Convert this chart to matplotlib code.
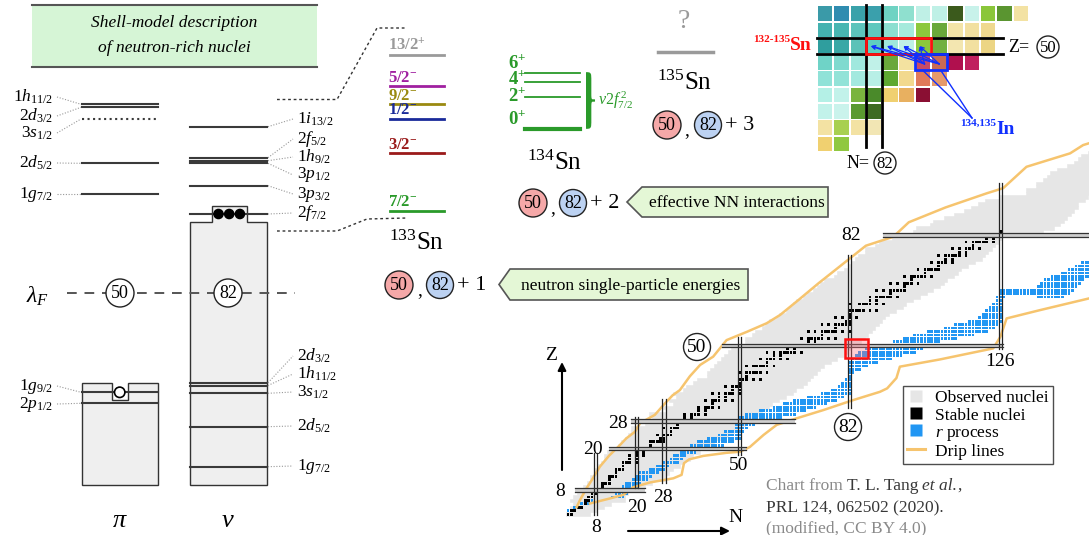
#!/usr/bin/env python
# -*- coding: utf-8 -*-
"""
壳模型示意图 + 核素图 (Sn/In 附近, r 过程)
"""

import numpy as np
import matplotlib
matplotlib.use('Agg')
import matplotlib.pyplot as plt
from matplotlib.patches import Rectangle, Circle, Polygon, PathPatch
from matplotlib.path import Path
from matplotlib.lines import Line2D
from matplotlib.collections import PatchCollection

plt.rcParams['font.family'] = ['Liberation Serif', 'DejaVu Serif']
plt.rcParams['mathtext.fontset'] = 'custom'
plt.rcParams['mathtext.rm'] = 'Liberation Serif'
plt.rcParams['mathtext.it'] = 'Liberation Serif:italic'
plt.rcParams['mathtext.bf'] = 'Liberation Serif:bold'

W, H = 1089, 535

# ---------------- 壳模型能级 ----------------
PI_UP_LABELS = [r'1$h_{\mathit{11/2}}$', r'2$d_{\mathit{3/2}}$', r'3$s_{\mathit{1/2}}$',
                r'2$d_{\mathit{5/2}}$', r'1$g_{\mathit{7/2}}$']
PI_UP_LEVELS = [104.3, 107.3, 119.0, 163.3, 194.0]
PI_UP_TEXT_Y = [97, 116, 133, 163, 194]

PI_LOW_LABELS = [r'1$g_{\mathit{9/2}}$', r'2$p_{\mathit{1/2}}$']
PI_LOW_LEVELS = [392.3, 403.3]
PI_LOW_TEXT_Y = [386, 404]

NU_UP_LABELS = [r'1$i_{\mathit{13/2}}$', r'2$f_{\mathit{5/2}}$', r'1$h_{\mathit{9/2}}$',
                r'3$p_{\mathit{1/2}}$', r'3$p_{\mathit{3/2}}$', r'2$f_{\mathit{7/2}}$']
NU_UP_LEVELS = [126.7, 157.7, 160.7, 163.3, 185.7, 214.0]
NU_UP_TEXT_Y = [119, 139, 157, 175, 194, 213]

NU_LOW_LABELS = [r'2$d_{\mathit{3/2}}$', r'1$h_{\mathit{11/2}}$', r'3$s_{\mathit{1/2}}$',
                 r'2$d_{\mathit{5/2}}$', r'1$g_{\mathit{7/2}}$']
NU_LOW_LEVELS = [382.7, 385.5, 393.3, 426.7, 466.7]
NU_LOW_TEXT_Y = [356, 374, 392, 426, 466]

# 133Sn 单中子态
SN133_LABELS = [r'$\mathbf{13/2^{+}}$', r'$\mathbf{5/2^{-}}$', r'$\mathbf{9/2^{-}}$',
                r'$\mathbf{1/2^{-}}$', r'$\mathbf{3/2^{-}}$', r'$\mathbf{7/2^{-}}$']
SN133_LEVELS = [55.0, 86.0, 104.3, 119.0, 153.3, 210.7]
SN133_COLORS = ['#9a9a9a', '#a020a0', '#9a8a10', '#1a2a9a', '#9a1a1a', '#2a9a2a']

# 134Sn  v2f7/2^2 多重态
SN134_LABELS = [r'$\mathbf{6^{+}}$', r'$\mathbf{4^{+}}$', r'$\mathbf{2^{+}}$', r'$\mathbf{0^{+}}$']
SN134_LEVELS = [73.3, 81.7, 97.3, 129.3]
SN134_TEXT_Y = [63, 79, 96, 119]

# ---------------- 局部核素图色块 (132-135Sn 附近) ----------------
TILE_COLORS = [
    ['#3a9aa8', '#2f8cb0', '#3aa2aa', '#3aa0ac', '#6fd3c3', '#8fe0cf', '#bff0e6', '#bff0e6',
     '#3b5a1c', '#c8f2ea', '#8ac63a', '#5a9530', '#f3e2a3'],
    ['#44b2b0', '#48b6b2', '#5cc4bc', '#5ec8be', '#8ddfd0', '#a6eadc', '#8cc83c', '#6aa83a',
     '#f3e4a8', '#f2e0a0', '#efd98f', '', ''],
    ['#2f9e9e', '#3aa8a6', '#5bc2b8', '#5ecfc0', '#9fe6dc', '#bff0e6', '#8cc83c', '#72b040',
     '#f3e6b0', '#f2e0a0', '#ecd584', '', ''],
    ['#6fd3c7', '#7fdacf', '#a0e8de', '#c0f1e8', '#6aa83a', '#f3e2a0', '#c84a66', '#c96a55',
     '#b0104e', '#c0205e', '', '', ''],
    ['#90e2d8', '#93e3d8', '#a3e9df', '#b8efe6', '#5ea832', '#f2d98e', '#e07a5a', '#e59a6c',
     '', '', '', '', ''],
    ['#b4f0e6', '#c2f2ea', '#7ab43e', '#4a8a2a', '#f0d070', '#e8b060', '#8a0f33',
     '', '', '', '', '', ''],
    ['#c2f2ea', '#caf3ec', '#5a9a30', '#3e6b22', '', '', '', '', '', '', '', '', ''],
    ['#f3e2a3', '#a8d050', '#f3e2a3', '#f2e6b4', '', '', '', '', '', '', '', '', ''],
    ['#f0d070', '#90c840', '', '', '', '', '', '', '', '', '', '', ''],
]

# ---------------- 核素图数据 (N, Z) ----------------
# 已观测核素: 每个 Z 的 N 范围
OBS_Z = list(range(1, 109))
OBS_NMIN = [0, 1, 1, 2, 1, 2, 3, 4, 5, 6, 7, 7, 8, 8, 9, 10, 11, 11, 12, 15,
            15, 16, 17, 18, 19, 19, 23, 20, 25, 24, 29, 28, 31, 30, 32, 31, 34, 35, 37, 38,
            41, 41, 42, 43, 44, 45, 46, 47, 48, 49, 52, 52, 54, 55, 57, 58, 59, 61, 62, 64,
            65, 66, 67, 69, 70, 72, 73, 74, 75, 78, 79, 81, 82, 83, 84, 85, 87, 87, 90, 91,
            95, 96, 101, 102, 106, 107, 110, 113, 116, 118, 120, 122, 126, 134, 134, 137, 137, 139, 140, 141,
            143, 146, 148, 149, 150, 152, 153, 155]
OBS_NMAX = [6, 8, 10, 12, 16, 16, 17, 20, 22, 24, 28, 28, 29, 30, 32, 33, 35, 36, 38, 40,
            41, 42, 44, 46, 48, 50, 51, 54, 53, 55, 56, 58, 59, 61, 63, 65, 66, 68, 69, 70,
            71, 72, 73, 74, 76, 78, 80, 81, 82, 84, 85, 86, 87, 88, 89, 90, 91, 92, 93, 95,
            97, 98, 100, 102, 104, 106, 108, 109, 110, 112, 113, 114, 116, 118, 120, 121, 122, 123, 124, 125,
            126, 131, 138, 141, 143, 144, 145, 146, 147, 148, 148, 150, 151, 153, 154, 156, 157, 158, 158, 159,
            159, 160, 163, 164, 165, 165, 167, 169]

# 稳定核素: Z -> N
STABLE_N = {
    1: [0, 1], 2: [1, 2], 3: [3, 4], 4: [5], 5: [5, 6], 6: [6, 7], 7: [7, 8],
    8: [8, 9, 10], 9: [10], 10: [10, 11, 12], 11: [12], 12: [12, 13, 14], 13: [14],
    14: [14, 15, 16], 15: [16], 16: [16, 17, 18, 20], 17: [18, 20], 18: [18, 20, 22],
    19: [20, 22], 20: [20, 22, 23, 24, 26, 28], 21: [24], 22: [24, 25, 26, 27, 28],
    23: [27, 28], 24: [26, 28, 29, 30], 25: [30], 26: [28, 30, 31, 32], 27: [32],
    28: [30, 32, 33, 34, 36], 29: [34, 36], 30: [34, 36, 37, 38, 40], 31: [38, 40],
    32: [38, 40, 41, 42, 44], 33: [42], 34: [40, 42, 43, 44, 46, 48], 35: [44, 46],
    36: [42, 44, 46, 47, 48, 50], 37: [48, 50], 38: [46, 48, 49, 50], 39: [50],
    40: [50, 51, 52, 54, 56], 41: [52], 42: [50, 52, 53, 54, 55, 56, 58],
    44: [52, 54, 55, 56, 57, 58, 60], 45: [58], 46: [56, 58, 59, 60, 62, 64],
    47: [60, 62], 48: [58, 60, 62, 63, 64, 65, 66, 68], 49: [64, 66],
    50: [62, 64, 65, 66, 67, 68, 69, 70, 72, 74], 51: [70, 72],
    52: [68, 70, 71, 72, 73, 74, 76, 78], 53: [74], 54: [70, 72, 74, 75, 76, 77, 78, 80, 82],
    55: [78], 56: [74, 76, 78, 79, 80, 81, 82], 57: [81, 82], 58: [78, 80, 82, 84],
    59: [82], 60: [82, 83, 84, 85, 86, 88, 90], 62: [82, 85, 86, 87, 88, 90, 92],
    63: [88, 90], 64: [88, 90, 91, 92, 93, 94, 96], 65: [94],
    66: [90, 92, 94, 95, 96, 97, 98], 67: [98], 68: [94, 96, 98, 99, 100, 102],
    69: [100], 70: [98, 100, 101, 102, 103, 104, 106], 71: [104],
    72: [102, 104, 105, 106, 107, 108], 73: [108], 74: [106, 108, 109, 110, 112],
    75: [110, 112], 76: [108, 110, 111, 112, 113, 114, 116], 77: [114, 116],
    78: [112, 114, 116, 117, 118, 120], 79: [118], 80: [116, 118, 119, 120, 121, 122, 124],
    81: [122, 124], 82: [122, 124, 125, 126], 83: [126],
}

# r 过程路径: 每段 (Z, N 起, N 止)
R_Z = [1, 2, 3, 4, 5, 6, 7, 8, 9, 10, 11, 12, 13, 14, 15, 16, 17, 18, 19, 20,
       21, 22, 23, 24, 25, 26, 27, 28, 29, 30, 31, 32, 33, 34, 35, 36, 37, 38, 39, 40,
       41, 42, 43, 44, 45, 46, 47, 48, 49, 50, 51, 52, 53, 54, 55, 56, 57, 58, 59, 60,
       61, 62, 63, 64, 64, 65, 66, 67, 68, 69, 70, 71, 72, 73, 74]
R_NMIN = [0, 0, 2, 4, 5, 13, 14, 15, 16, 17, 19, 20, 21, 24, 26, 28, 30, 31, 33, 34,
          36, 38, 41, 44, 46, 49, 49, 50, 50, 52, 56, 60, 63, 66, 70, 74, 77, 79, 80, 81,
          82, 82, 82, 82, 82, 83, 84, 85, 87, 91, 95, 98, 101, 105, 110, 113, 117, 120, 121, 122,
          123, 124, 125, 125, 137, 126, 126, 137, 138, 139, 141, 144, 146, 148, 150]
R_NMAX = [1, 2, 4, 6, 7, 16, 17, 19, 20, 21, 23, 24, 26, 28, 29, 32, 33, 34, 37, 42,
          45, 48, 50, 50, 51, 52, 54, 58, 62, 66, 69, 72, 75, 78, 80, 82, 82, 82, 82, 82,
          82, 83, 85, 87, 90, 94, 97, 101, 103, 104, 108, 113, 118, 122, 124, 125, 126, 126, 126, 126,
          126, 126, 126, 127, 144, 146, 147, 148, 149, 150, 152, 152, 152, 152, 152]

# 中子/质子滴线
P_DRIP_N = [2.5, 3.5, 5.4, 7.0, 9.3, 12.0, 14.7, 17.0, 19.5, 21.0, 25.3, 28.3, 30.5, 32.6,
            35.5, 38.5, 42.3, 46.2, 52.1, 57.9, 61.8, 67.1, 73.0, 80.6, 86.8, 94.8, 99.3,
            110.0, 122.0, 126.8, 133.6, 146.3, 150.1, 153.0]
P_DRIP_Z = [3.0, 5.1, 8.5, 11.0, 14.8, 18.0, 20.6, 23.0, 24.9, 27.4, 29.8, 33.2, 35.5, 37.0,
            41.0, 44.3, 46.7, 51.5, 53.9, 56.4, 58.8, 63.1, 68.0, 74.0, 78.9, 81.5, 85.7,
            90.0, 94.1, 95.6, 101.8, 105.7, 108.1, 109.0]
N_DRIP_N = [6.4, 12.0, 16.1, 19.0, 23.9, 30.7, 33.1, 33.8, 35.3, 39.4, 46.2, 50.1, 53.0,
            57.0, 60.8, 66.6, 74.4, 83.1, 90.9, 93.0, 95.7, 96.7, 108.4, 123.9, 126.0,
            127.8, 137.5, 151.8, 153.0]
N_DRIP_Z = [4.1, 5.5, 6.6, 8.8, 10.2, 11.4, 12.4, 15.8, 16.9, 17.9, 18.8, 19.1, 20.5,
            24.0, 26.9, 28.8, 31.2, 34.1, 36.5, 37.5, 40.5, 43.8, 45.9, 49.1, 52.5,
            57.8, 60.2, 63.6, 64.0]

MAGIC_N = [8, 20, 28, 50, 82, 126]
MAGIC_N_ZSPAN = [(0.8, 18.7), (8.5, 29.3), (10.0, 34.5), (18.2, 52.5), (31.8, 76.3), (48.9, 97.1)]
MAGIC_Z = [8, 20, 28, 50, 82]
MAGIC_Z_NSPAN = [(2.0, 22.5), (12.0, 52.0), (18.5, 66.0), (44.9, 126.7), (91.7, 155.0)]

LEVEL_C = '#3a3a3a'
BOX_C = '#efefef'
GRAY_OBS = '#e6e6e6'
R_BLUE = '#2196f3'
DRIP_C = '#f6c46e'
ARROW_BLUE = '#1030ff'


def brace(ax, x, y0, y1, w, **kw):
    """竖直大括号 '}' (y 向下增大)"""
    h = y1 - y0
    ym = (y0 + y1) / 2
    xm = x + w * 0.5
    verts = [(x, y0),
             (xm, y0), (xm, y0), (xm, y0 + 0.15 * h),
             (xm, ym - 0.12 * h),
             (xm, ym - 0.02 * h), (xm, ym), (x + w, ym),
             (xm, ym), (xm, ym + 0.02 * h), (xm, ym + 0.12 * h),
             (xm, y1 - 0.15 * h),
             (xm, y1), (xm, y1), (x, y1)]
    C4 = Path.CURVE4
    codes = [Path.MOVETO, C4, C4, C4, Path.LINETO, C4, C4, C4, C4, C4, C4,
             Path.LINETO, C4, C4, C4]
    ax.add_patch(PathPatch(Path(verts, codes), facecolor='none', **kw))


def circled(ax, x, y, txt, r=13, fc='white', fs=13):
    ax.add_patch(Circle((x, y), r, facecolor=fc, edgecolor='#222', lw=1.0, zorder=5))
    ax.text(x, y + 1, txt, ha='center', va='center', fontsize=fs, zorder=6)


def callout(ax, x0, x1, y0, y1, tip, txt):
    ym = (y0 + y1) / 2
    pts = [(tip, ym), (x0, y0), (x1, y0), (x1, y1), (x0, y1)]
    ax.add_patch(Polygon(pts, closed=True, facecolor='#e4f7d6', edgecolor='#555', lw=1.2))
    ax.text((x0 + x1) / 2 + 2, ym + 1, txt, ha='center', va='center', fontsize=12.5)


fig = plt.figure(figsize=(W / 100, H / 100), dpi=100)
ax = fig.add_axes([0, 0, 1, 1])
ax.set_xlim(0, W)
ax.set_ylim(H, 0)
ax.axis('off')

# ---- 标题框 ----
ax.add_patch(Rectangle((32, 5), 285, 62, facecolor='#d6f5d6', edgecolor='none'))
ax.plot([32, 317], [5, 5], color='#555', lw=1.5)
ax.plot([32, 317], [67, 67], color='#555', lw=1.5)
ax.text(174, 23, 'Shell-model description', ha='center', va='center', fontsize=12.5, style='italic')
ax.text(174, 48, 'of neutron-rich nuclei', ha='center', va='center', fontsize=12.5, style='italic')

# ---- 质子能级 ----
PX0, PX1 = 82, 158
for i, (lab, ylev, ytx) in enumerate(zip(PI_UP_LABELS, PI_UP_LEVELS, PI_UP_TEXT_Y)):
    ls = ':' if i == 2 else '-'
    ax.plot([PX0, PX1], [ylev, ylev], color=LEVEL_C, lw=1.5, ls=ls)
    ax.text(53, ytx, lab, ha='right', va='center', fontsize=12.5)
    ax.plot([57, PX0 - 1], [ytx, ylev], color='#999', lw=0.8, ls=(0, (1, 1.5)))

prot_box = [(PX0, 485), (PX0, 383.3), (111.7, 383.3), (111.7, 400), (127.7, 400),
            (127.7, 383.3), (PX1, 383.3), (PX1, 485)]
ax.add_patch(Polygon(prot_box, closed=True, facecolor=BOX_C, edgecolor='#333', lw=1.0))
for lab, ylev, ytx in zip(PI_LOW_LABELS, PI_LOW_LEVELS, PI_LOW_TEXT_Y):
    ax.plot([PX0, PX1], [ylev, ylev], color=LEVEL_C, lw=1.5)
    ax.text(53, ytx, lab, ha='right', va='center', fontsize=12.5)
    ax.plot([57, PX0 - 1], [ytx, ylev], color='#999', lw=0.8, ls=(0, (1, 1.5)))
ax.add_patch(Circle((119.7, 392.3), 5.2, facecolor='white', edgecolor='black', lw=1.2, zorder=4))

# ---- 中子能级 ----
NX0, NX1 = 190, 267
neut_box = [(NX0, 485), (NX0, 222), (212, 222), (212, 205.5), (246.5, 205.5),
            (246.5, 222), (NX1, 222), (NX1, 485)]
ax.add_patch(Polygon(neut_box, closed=True, facecolor=BOX_C, edgecolor='#333', lw=1.0))
for lab, ylev, ytx in zip(NU_UP_LABELS, NU_UP_LEVELS, NU_UP_TEXT_Y):
    ax.plot([NX0, NX1], [ylev, ylev], color=LEVEL_C, lw=1.5)
    ax.text(297, ytx, lab, ha='left', va='center', fontsize=12.5)
    ax.plot([NX1 + 1, 293], [ylev, ytx], color='#999', lw=0.8, ls=(0, (1, 1.5)))
for lab, ylev, ytx in zip(NU_LOW_LABELS, NU_LOW_LEVELS, NU_LOW_TEXT_Y):
    ax.plot([NX0, NX1], [ylev, ylev], color=LEVEL_C, lw=1.5)
    ax.text(297, ytx, lab, ha='left', va='center', fontsize=12.5)
    ax.plot([NX1 + 1, 293], [ylev, ytx], color='#999', lw=0.8, ls=(0, (1, 1.5)))
for xd in (218.5, 229.2, 239.9):
    ax.add_patch(Circle((xd, 214.0), 4.6, facecolor='black', edgecolor='black', zorder=4))

# 费米面
ax.plot([67, 295], [293, 293], color='#555', lw=1.4, ls=(0, (5, 4)))
ax.text(38, 296, r'$\lambda_F$', ha='center', va='center', fontsize=17)
circled(ax, 120, 293, '50', r=14)
circled(ax, 228, 293, '82', r=14)
ax.text(120, 521, r'$\pi$', ha='center', va='center', fontsize=19)
ax.text(228, 521, r'$\nu$', ha='center', va='center', fontsize=19)

# 连到 133Sn 的虚线
ax.plot([277, 337, 377, 405], [99.5, 99.5, 28, 28], color='#333', lw=1.0, ls=(0, (2, 2)))
ax.plot([277, 337, 352, 367, 407], [231, 231, 225, 219, 218], color='#333', lw=1.0, ls=(0, (2, 2)))

# ---- 133Sn ----
for lab, ylev, col in zip(SN133_LABELS, SN133_LEVELS, SN133_COLORS):
    ax.plot([390, 444], [ylev, ylev], color=col, lw=2.0)
    ax.text(388, ylev - 0.5, lab, ha='left', va='bottom', fontsize=12, color=col)
ax.text(417, 243, r'$^{133}$Sn', ha='center', va='center', fontsize=18)
circled(ax, 399, 285, '50', r=14, fc='#f5a8a8')
ax.text(420, 291, ',', ha='center', va='center', fontsize=14)
circled(ax, 440, 285, '82', r=13.5, fc='#bcd2f2')
ax.text(457, 286, '+ 1', ha='left', va='center', fontsize=16)
callout(ax, 510, 748, 269, 300, 499, 'neutron single-particle energies')

# ---- 134Sn ----
for lab, ylev, ytx, i in zip(SN134_LABELS, SN134_LEVELS, SN134_TEXT_Y, range(4)):
    ax.plot([525, 580], [ylev, ylev], color='#2a9a2a', lw=3.0 if i == 3 else 1.3)
    ax.text(508, ytx, lab, ha='left', va='center', fontsize=13.5, color='#2a9a2a')
brace(ax, 586, 73, 128, 9, color='#2a9a2a', lw=1.2)
ax.text(598, 100, r'$\nu 2f^{\,2}_{7/2}$', ha='left', va='center', fontsize=11.5, color='#2a9a2a')
ax.text(555, 163, r'$^{134}$Sn', ha='center', va='center', fontsize=18)
circled(ax, 533, 203, '50', r=14, fc='#f5a8a8')
ax.text(553, 209, ',', ha='center', va='center', fontsize=14)
circled(ax, 573, 203, '82', r=13.5, fc='#bcd2f2')
ax.text(590, 204, '+ 2', ha='left', va='center', fontsize=16)
callout(ax, 642, 828, 187, 217, 627, 'effective NN interactions')

# ---- 135Sn ----
ax.text(684, 22, '?', ha='center', va='center', fontsize=20, color='#9a9a9a')
ax.plot([658, 713], [52, 52], color='#9a9a9a', lw=2.5)
ax.text(685, 83, r'$^{135}$Sn', ha='center', va='center', fontsize=18)
circled(ax, 667, 125, '50', r=14, fc='#f5a8a8')
ax.text(687, 131, ',', ha='center', va='center', fontsize=14)
circled(ax, 708, 125, '82', r=13.5, fc='#bcd2f2')
ax.text(725, 126, '+ 3', ha='left', va='center', fontsize=16)

# ---- 局部色块图 ----
TX0, TY0, TP, TG = 817.0, 5.3, 16.3, 0.9
for r, row in enumerate(TILE_COLORS):
    for c, col in enumerate(row):
        if col:
            ax.add_patch(Rectangle((TX0 + c * TP + TG, TY0 + r * TP + TG), TP - 2 * TG, TP - 2 * TG,
                                   facecolor=col, edgecolor='none'))
for yl in (TY0 + 2 * TP, TY0 + 3 * TP):
    ax.plot([TX0, 1003], [yl, yl], color='black', lw=2.0)
for xl in (TX0 + 3 * TP, TX0 + 4 * TP):
    ax.plot([xl, xl], [TY0, 147], color='black', lw=2.0)
ax.add_patch(Rectangle((TX0 + 3 * TP, TY0 + 2 * TP), 4 * TP, TP, facecolor='none',
                       edgecolor='#ff1010', lw=2.0, zorder=4))
ax.add_patch(Rectangle((TX0 + 6 * TP, TY0 + 3 * TP), 2 * TP, TP, facecolor='none',
                       edgecolor=ARROW_BLUE, lw=2.0, zorder=4))
heads = [(TX0 + (c + 0.3) * TP, TY0 + 2.5 * TP) for c in (3, 4, 5, 6)]
for tail in [(TX0 + 6.6 * TP, TY0 + 3.6 * TP), (TX0 + 7.5 * TP, TY0 + 3.6 * TP)]:
    for hd in heads:
        ax.annotate('', xy=hd, xytext=tail,
                    arrowprops=dict(arrowstyle='->', color=ARROW_BLUE, lw=0.9,
                                    mutation_scale=6, shrinkA=0, shrinkB=0), zorder=5)
for tgt in [(TX0 + 6.5 * TP, TY0 + 4 * TP), (TX0 + 7.6 * TP, TY0 + 4 * TP)]:
    ax.plot([972, tgt[0]], [118, tgt[1]], color=ARROW_BLUE, lw=1.0)
ax.text(790, 40, '132-135', ha='right', va='center', fontsize=8, color='#ff1010', weight='bold')
ax.text(790, 46, 'Sn', ha='left', va='center', fontsize=14, color='#ff1010', weight='bold')
ax.text(996, 123, '134,135', ha='right', va='center', fontsize=8, color=ARROW_BLUE, weight='bold')
ax.text(996, 130, 'In', ha='left', va='center', fontsize=14, color=ARROW_BLUE, weight='bold')
ax.text(1008, 47, 'Z=', ha='left', va='center', fontsize=13)
circled(ax, 1048, 47, '50', r=11, fs=12)
ax.text(847, 163, 'N=', ha='left', va='center', fontsize=13)
circled(ax, 885, 163, '82', r=11, fs=12)

# ---- 核素图 ----
axc = fig.add_axes([0, 0, 1, 1])
axc.set_xlim(-165.50, 151.81)
axc.set_ylim(-5.05, 150.20)
axc.axis('off')

obs_left = np.array(OBS_NMIN) - 0.5
obs_w = np.array(OBS_NMAX) - np.array(OBS_NMIN) + 1
axc.barh(OBS_Z, obs_w, left=obs_left, height=1.0, color=GRAY_OBS, edgecolor=GRAY_OBS,
         linewidth=0.4, zorder=1)

r_cells = [Rectangle((n - 0.4, z - 0.4), 0.8, 0.8)
           for z, n0, n1 in zip(R_Z, R_NMIN, R_NMAX) for n in range(n0, n1 + 1)]
axc.add_collection(PatchCollection(r_cells, facecolor=R_BLUE, edgecolor='none', zorder=2))
st_cells = [Rectangle((n - 0.4, z - 0.4), 0.8, 0.8)
            for z, ns in STABLE_N.items() for n in ns]
axc.add_collection(PatchCollection(st_cells, facecolor='black', edgecolor='none', zorder=3))

axc.plot(P_DRIP_N, P_DRIP_Z, color=DRIP_C, lw=1.8, zorder=3.5)
axc.plot(N_DRIP_N, N_DRIP_Z, color=DRIP_C, lw=1.8, zorder=3.5)

for n, (z0, z1) in zip(MAGIC_N, MAGIC_N_ZSPAN):
    for d in (-0.5, 0.5):
        axc.plot([n + d, n + d], [z0, z1], color='#222', lw=0.9, zorder=4)
for z, (n0, n1) in zip(MAGIC_Z, MAGIC_Z_NSPAN):
    axc.fill_between([n0, n1], z - 0.5, z + 0.5, color='#cfcfcf', lw=0, zorder=3.8)
    for d in (-0.5, 0.5):
        axc.plot([n0, n1], [z + d, z + d], color='#333', lw=0.9, zorder=4)

axc.add_patch(Rectangle((80.7, 46.3), 6.7, 5.4, facecolor=(1.0, 0.45, 0.5, 0.35),
                        edgecolor='#ff1010', lw=1.8, zorder=5))

# 幻数标注
for txt, x, y in [('8', 560, 491), ('20', 593, 450), ('28', 618, 423),
                  ('8', 596, 527), ('20', 637, 508), ('28', 663, 497), ('50', 739, 466),
                  ('82', 851, 236), ('126', 1000, 361)]:
    ax.text(x, y, txt, ha='center', va='center', fontsize=14)
circled(ax, 697, 347, '50', r=13.5, fs=14)
circled(ax, 848, 427, '82', r=13.5, fs=14)

# 坐标箭头
ax.annotate('', xy=(562, 362), xytext=(562, 470),
            arrowprops=dict(arrowstyle='-|>', color='black', lw=1.5, mutation_scale=12,
                            shrinkA=0, shrinkB=0))
ax.annotate('', xy=(730, 531), xytext=(628, 531),
            arrowprops=dict(arrowstyle='-|>', color='black', lw=1.5, mutation_scale=12,
                            shrinkA=0, shrinkB=0))
ax.text(551, 356, 'Z', ha='center', va='center', fontsize=14)
ax.text(735, 517, 'N', ha='center', va='center', fontsize=14)

handles = [Line2D([], [], marker='s', ls='none', markersize=9, markerfacecolor=GRAY_OBS,
                  markeredgecolor='none'),
           Line2D([], [], marker='s', ls='none', markersize=9, markerfacecolor='black',
                  markeredgecolor='none'),
           Line2D([], [], marker='s', ls='none', markersize=9, markerfacecolor=R_BLUE,
                  markeredgecolor='none'),
           Line2D([], [], color=DRIP_C, lw=2.2)]
labels = ['Observed nuclei', 'Stable nuclei', r'$r$ process', 'Drip lines']
leg = axc.legend(handles, labels, loc='upper left', bbox_to_anchor=(903 / W, 1 - 386 / H),
                 bbox_transform=fig.transFigure, frameon=True, fancybox=False,
                 edgecolor='#222', fontsize=12.5, handlelength=1.0, handletextpad=0.6,
                 borderpad=0.25, labelspacing=0.05, borderaxespad=0)
leg.get_frame().set_linewidth(1.0)
leg.set_zorder(10)

# 出处
ax.text(766, 486, 'Chart from', ha='left', va='center', fontsize=12.5, color='#8a8a8a')
ax.text(847, 486, 'T. L. Tang', ha='left', va='center', fontsize=12.5, color='#383838')
ax.text(922, 486, 'et al.', ha='left', va='center', fontsize=12.5, color='#383838', style='italic')
ax.text(957, 486, ',', ha='left', va='center', fontsize=12.5, color='#383838')
ax.text(766, 508, 'PRL 124, 062502 (2020).', ha='left', va='center', fontsize=12.5, color='#383838')
ax.text(766, 528, '(modified, CC BY 4.0)', ha='left', va='center', fontsize=12.5, color='#8a8a8a')

fig.savefig('out.png', dpi=100)
